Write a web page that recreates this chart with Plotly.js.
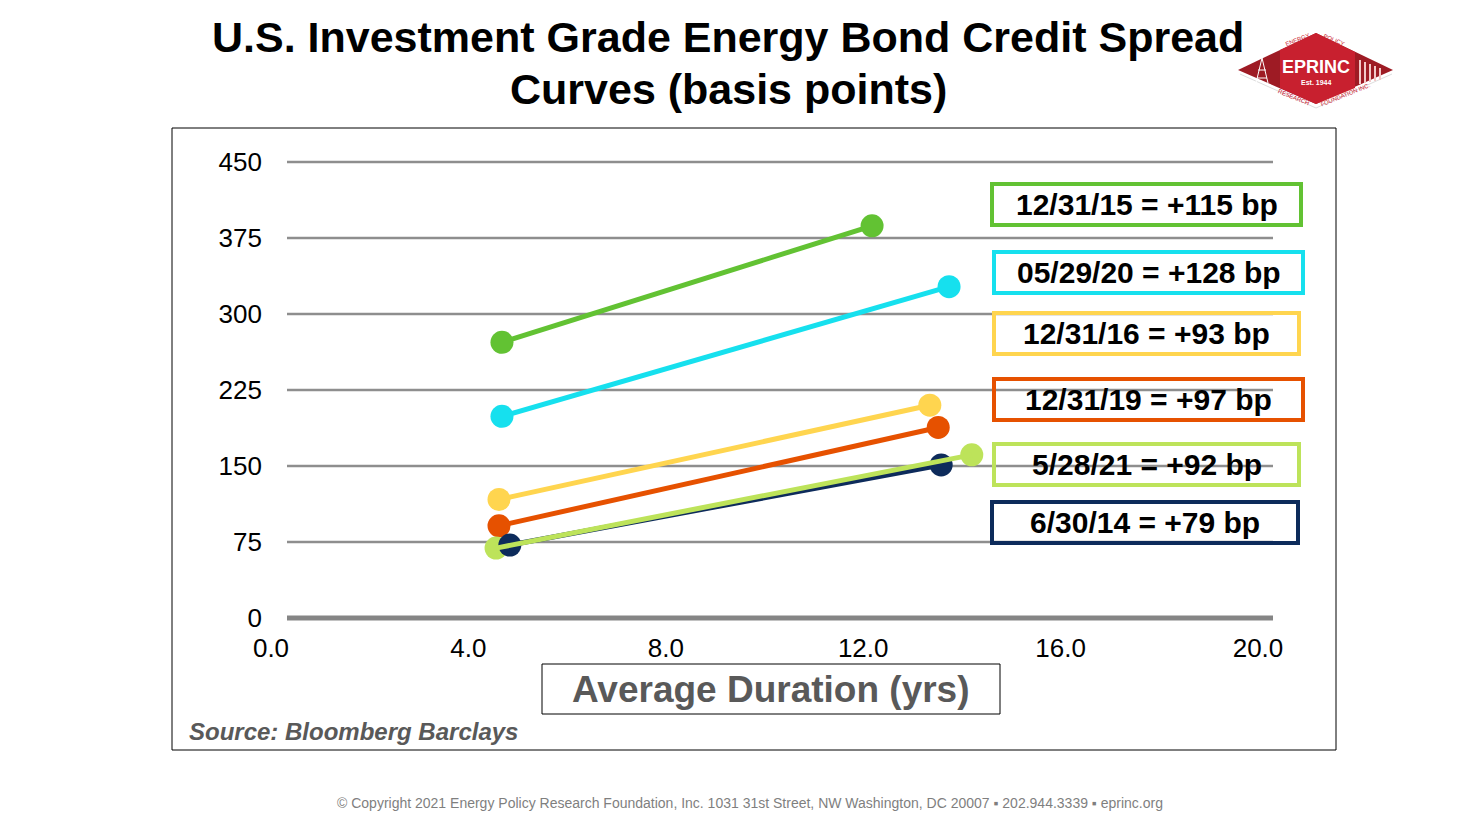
<!DOCTYPE html>
<html>
<head>
<meta charset="utf-8">
<script src="https://cdn.plot.ly/plotly-3.0.1.min.js"></script>
<style>
  html, body { margin: 0; padding: 0; background: #fff; }
  #chart { width: 1473px; height: 826px; }
</style>
</head>
<body>
<div id="chart"></div>
<script>
// curve dates, short end (approx 4.6 yrs) and long end (approx 13.5 yrs)
var curveDates   = ['12/31/15', '05/29/20', '12/31/16', '12/31/19', '5/28/21', '6/30/14'];
var shortDur     = [4.68, 4.68, 4.62, 4.62, 4.56, 4.84];
var shortSpread  = [272, 199, 117, 91, 69, 72];
var longDur      = [12.18, 13.74, 13.35, 13.52, 14.2, 13.58];
var longSpread   = [387, 327, 210, 188, 161, 151];
var curveSlope   = [115, 128, 93, 97, 92, 79];
var curveColors  = ['#62c233', '#16e0ee', '#ffd54f', '#e65100', '#bde35a', '#0d2b5b'];

var yTicks = [0, 75, 150, 225, 300, 375, 450];
var yMax = 450;

// pixel -> paper helpers (plot area is 271..1258 by 162..618)
var L = 271, R = 1258, T = 162, B = 618;
function X(px) { return (px - L) / (R - L); }
function Y(py) { return (B - py) / (B - T); }

function curve(i, mode) {
  return {
    type: 'scatter',
    mode: mode,
    x: [shortDur[i], longDur[i]],
    y: [shortSpread[i], longSpread[i]],
    line: { color: curveColors[i], width: 5 },
    marker: { color: curveColors[i], size: 23 },
    hoverinfo: 'x+y',
    showlegend: false
  };
}

// light green dots sit under the navy curve, its line goes on top
var data = [];
for (var i = 0; i < 4; i++) data.push(curve(i, 'lines+markers'));
data.push(curve(4, 'markers'));
data.push(curve(5, 'lines+markers'));
data.push(curve(4, 'lines'));

var shapes = [];
// gridlines (paper refs so the thick zero line is not clipped)
yTicks.forEach(function(v) {
  shapes.push({
    type: 'line', xref: 'paper', yref: 'paper', layer: 'below',
    x0: X(287), x1: X(1273), y0: v / yMax, y1: v / yMax,
    line: { color: v === 0 ? '#858585' : '#8e8e8e', width: v === 0 ? 5 : 2.5 }
  });
});
// outer frame + axis title box
shapes.push({ type: 'rect', xref: 'paper', yref: 'paper', x0: X(172), x1: X(1336), y0: Y(128), y1: Y(750), line: { color: '#000', width: 1 } });
shapes.push({ type: 'rect', xref: 'paper', yref: 'paper', x0: X(542), x1: X(1000), y0: Y(664), y1: Y(714), line: { color: '#000', width: 1 } });

function note(px, py, text, font, extra) {
  var a = { xref: 'paper', yref: 'paper', x: X(px), y: Y(py), xanchor: 'center', yanchor: 'middle',
            showarrow: false, text: text, font: font };
  for (var k in extra || {}) a[k] = extra[k];
  return a;
}

// legend boxes
var boxX0 = [990, 992, 992, 992, 992, 990];
var boxX1 = [1303, 1305, 1301, 1305, 1301, 1300];
var boxY0 = [182, 250, 311, 377, 442, 500];
var boxY1 = [227, 295, 356, 422, 487, 545];
var arial = 'Liberation Sans, Arial, sans-serif';
var annotations = [];
for (var j = 0; j < curveDates.length; j++) {
  shapes.push({
    type: 'rect', xref: 'paper', yref: 'paper',
    x0: X(boxX0[j] + 2), x1: X(boxX1[j] - 2), y0: Y(boxY0[j] + 2), y1: Y(boxY1[j] - 2),
    line: { color: curveColors[j], width: 4 }
  });
  annotations.push(note((boxX0[j] + boxX1[j]) / 2, (boxY0[j] + boxY1[j]) / 2,
    '<b>' + curveDates[j] + ' = +' + curveSlope[j] + ' bp</b>',
    { family: arial, size: 30, color: '#000' }));
}

// logo (drawn roughly)
function P(pts) {
  return 'M' + pts.map(function(p) { return X(p[0]) + ',' + Y(p[1]); }).join('L') + 'Z';
}
function seg(x0, y0, x1, y1, c, w) {
  return { type: 'line', xref: 'paper', yref: 'paper', x0: X(x0), y0: Y(y0), x1: X(x1), y1: Y(y1), line: { color: c, width: w } };
}
shapes.push({ type: 'path', xref: 'paper', yref: 'paper', path: P([[1238, 70], [1316, 33], [1393, 70], [1316, 104]]), fillcolor: '#9e1b24', line: { width: 0 } });
shapes.push({ type: 'path', xref: 'paper', yref: 'paper', path: P([[1280, 50], [1316, 33], [1355, 52], [1355, 88], [1316, 104], [1280, 88]]), fillcolor: '#c8202f', line: { width: 0 } });
shapes.push(seg(1240, 74, 1316, 108, '#dddddd', 1));
shapes.push(seg(1316, 108, 1392, 74, '#dddddd', 1));
// derrick
shapes.push(seg(1262, 58, 1256, 83, '#fff', 1));
shapes.push(seg(1262, 58, 1268, 83, '#fff', 1));
shapes.push(seg(1258, 70, 1266, 70, '#fff', 1));
shapes.push(seg(1257, 78, 1267, 78, '#fff', 1));
// bars on the right
[1360, 1365, 1370, 1375, 1380].forEach(function(bx, n) {
  shapes.push(seg(bx, 60 + n * 2, bx, 84 - n, '#f3c8c8', 2));
});

var logoFont = 'Liberation Sans Narrow, Liberation Sans, Arial, sans-serif';
annotations.push(
  note(1316, 67, '<b>EPRINC</b>', { family: logoFont, size: 18, color: '#fff' }),
  note(1316, 83, '<b>Est. 1944</b>', { family: logoFont, size: 7, color: '#fff' }),
  note(1297, 40, 'ENERGY', { family: logoFont, size: 6, color: '#c8202f' }, { textangle: -22 }),
  note(1334, 40, 'POLICY', { family: logoFont, size: 6, color: '#c8202f' }, { textangle: 22 }),
  note(1293, 97, 'RESEARCH', { family: logoFont, size: 6, color: '#c8202f' }, { textangle: 22 }),
  note(1345, 95, 'FOUNDATION INC.', { family: logoFont, size: 6, color: '#c8202f' }, { textangle: -22 })
);

// titles and captions
annotations.push(
  note(728, 37, '<b>U.S. Investment Grade Energy Bond Credit Spread</b>', { family: arial, size: 43, color: '#000' }),
  note(728, 89, '<b>Curves (basis points)</b>', { family: arial, size: 43, color: '#000' }),
  note(771, 689, '<b>Average Duration (yrs)</b>', { family: arial, size: 37, color: '#595959' }),
  note(187, 731, '<b><i>Source: Bloomberg Barclays</i></b>', { family: arial, size: 24, color: '#595959' }, { xanchor: 'left' }),
  note(750, 803, '© Copyright 2021 Energy Policy Research Foundation, Inc. 1031 31st Street, NW Washington, DC 20007 ▪ 202.944.3339 ▪ eprinc.org', { family: arial, size: 14, color: '#7f7f7f' })
);

var layout = {
  width: 1473, height: 826,
  margin: { l: L, r: 1473 - R, t: T, b: 826 - B, pad: 0 },
  paper_bgcolor: '#fff', plot_bgcolor: 'rgba(0,0,0,0)',
  font: { family: arial, color: '#000' },
  xaxis: {
    range: [0, 20], tickvals: [0, 4, 8, 12, 16, 20], tickformat: '.1f',
    showgrid: false, zeroline: false, showline: false, ticks: '',
    ticklabelstandoff: 12, tickfont: { size: 26, color: '#000' }
  },
  yaxis: {
    range: [0, yMax], tickvals: yTicks,
    showgrid: false, zeroline: false, showline: false, ticks: '',
    ticklabelstandoff: 8, tickfont: { size: 26, color: '#000' }
  },
  shapes: shapes,
  annotations: annotations
};

Plotly.newPlot('chart', data, layout, { displayModeBar: false, staticPlot: true });
</script>
</body>
</html>
